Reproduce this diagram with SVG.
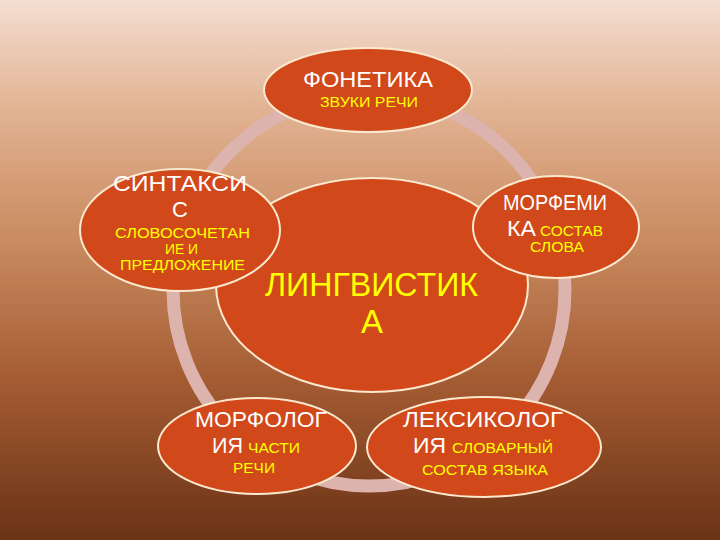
<svg xmlns="http://www.w3.org/2000/svg" width="720" height="540" viewBox="0 0 720 540">
  <defs>
    <linearGradient id="bg" x1="0" y1="0" x2="0" y2="1">
      <stop offset="0" stop-color="#f4ded2"/>
      <stop offset="0.2" stop-color="#e2b393"/>
      <stop offset="0.45" stop-color="#c98a5f"/>
      <stop offset="0.7" stop-color="#a55c33"/>
      <stop offset="1" stop-color="#6a3316"/>
    </linearGradient>
  </defs>
  <style>
    .node { fill: #d1481a; stroke: #fbe9cf; stroke-width: 2; }
    .ring { fill: none; stroke: #ddb3ae; stroke-width: 13; }
    text { font-family: "Liberation Sans", Arial, sans-serif; }
    .m { text-anchor: middle; }
    .w { fill: #ffffff; font-size: 22px; }
    .y { fill: #ffff00; font-size: 15px; }
    .c { fill: #ffff00; font-size: 33px; }
  </style>
  <rect x="0" y="0" width="720" height="540" fill="url(#bg)"/>
  <g id="connectors">
    <circle class="ring" cx="369" cy="290" r="196"/>
  </g>
  <g id="center">
    <ellipse class="node" cx="372" cy="285" rx="156" ry="107"/>
    <text class="c" x="265" y="296" textLength="213" lengthAdjust="spacingAndGlyphs">ЛИНГВИСТИК</text>
    <text class="c m" x="372" y="333">А</text>
  </g>
  <g id="fonetika">
    <ellipse class="node" cx="368" cy="90" rx="104" ry="42"/>
    <text class="w" x="303" y="87" textLength="130" lengthAdjust="spacingAndGlyphs">ФОНЕТИКА</text>
    <text class="y" x="320" y="107" textLength="98" lengthAdjust="spacingAndGlyphs">ЗВУКИ РЕЧИ</text>
  </g>
  <g id="sintaksis">
    <ellipse class="node" cx="180" cy="230" rx="100" ry="61"/>
    <text class="w" x="113" y="191" textLength="134" lengthAdjust="spacingAndGlyphs">СИНТАКСИ</text>
    <text class="w m" x="180" y="217">С</text>
    <text class="y" x="115" y="238" textLength="135" lengthAdjust="spacingAndGlyphs">СЛОВОСОЧЕТАН</text>
    <text class="y" x="165" y="254" textLength="33" lengthAdjust="spacingAndGlyphs">ИЕ И</text>
    <text class="y" x="120" y="270" textLength="125" lengthAdjust="spacingAndGlyphs">ПРЕДЛОЖЕНИЕ</text>
  </g>
  <g id="morfemika">
    <ellipse class="node" cx="556" cy="227" rx="83" ry="51"/>
    <text class="w" x="503" y="210" textLength="104" lengthAdjust="spacingAndGlyphs">МОРФЕМИ</text>
    <text class="w" x="507" y="236" textLength="29" lengthAdjust="spacingAndGlyphs">КА</text>
    <text class="y" x="540" y="236" textLength="63" lengthAdjust="spacingAndGlyphs">СОСТАВ</text>
    <text class="y" x="530" y="252" textLength="54" lengthAdjust="spacingAndGlyphs">СЛОВА</text>
  </g>
  <g id="morfologia">
    <ellipse class="node" cx="257" cy="446" rx="99" ry="48"/>
    <text class="w" x="195" y="427" textLength="132" lengthAdjust="spacingAndGlyphs">МОРФОЛОГ</text>
    <text class="w" x="212" y="453" textLength="31" lengthAdjust="spacingAndGlyphs">ИЯ</text>
    <text class="y" x="248" y="453" textLength="52" lengthAdjust="spacingAndGlyphs">ЧАСТИ</text>
    <text class="y" x="233" y="473" textLength="42" lengthAdjust="spacingAndGlyphs">РЕЧИ</text>
  </g>
  <g id="leksikologia">
    <ellipse class="node" cx="484" cy="447" rx="117" ry="50"/>
    <text class="w" x="403" y="427" textLength="160" lengthAdjust="spacingAndGlyphs">ЛЕКСИКОЛОГ</text>
    <text class="w" x="413" y="453" textLength="33" lengthAdjust="spacingAndGlyphs">ИЯ</text>
    <text class="y" x="452" y="453" textLength="101" lengthAdjust="spacingAndGlyphs">СЛОВАРНЫЙ</text>
    <text class="y" x="422" y="475" textLength="126" lengthAdjust="spacingAndGlyphs">СОСТАВ ЯЗЫКА</text>
  </g>
</svg>
